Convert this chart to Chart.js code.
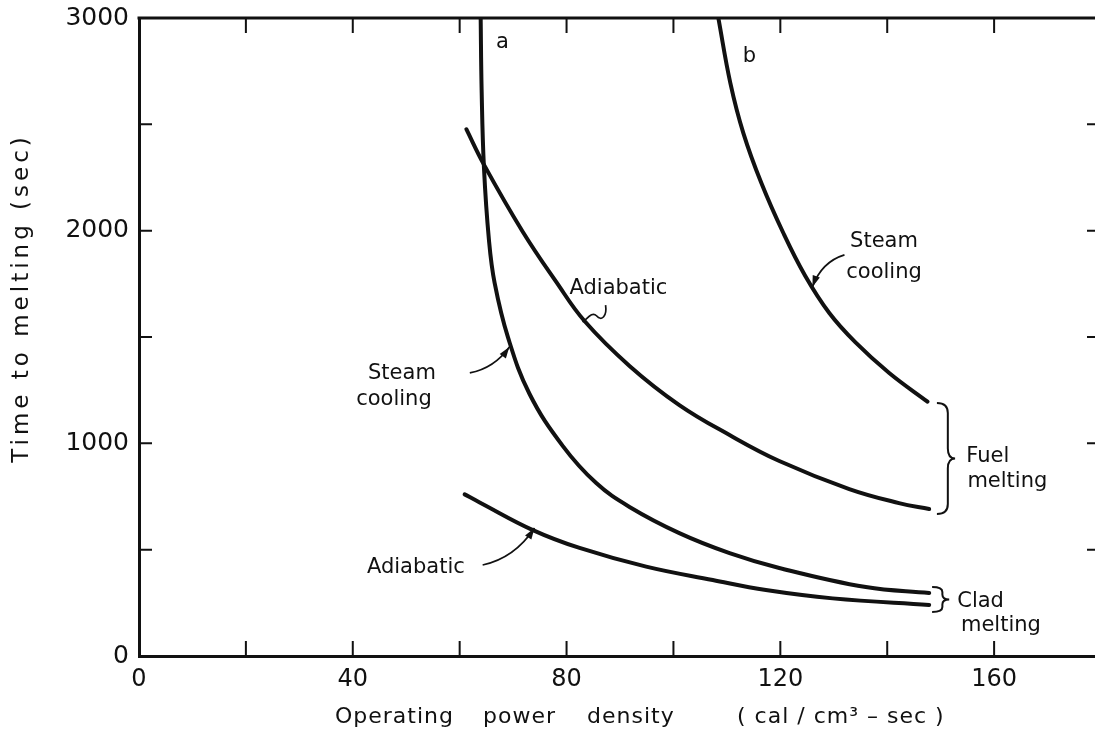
<!DOCTYPE html>
<html lang="en">
<head>
<meta charset="UTF-8">
<title>Time to melting vs operating power density</title>
<script src="https://cdn.jsdelivr.net/npm/chart.js"></script>
<style>
  html, body { margin: 0; padding: 0; background: #fff; overflow: hidden; }
  #wrap { width: 1095px; height: 738px; overflow: hidden; }
  canvas { display: block; }
</style>
</head>
<body>
<div id="wrap"><canvas id="meltChart" width="1110" height="738"></canvas></div>
<script>
// curve a, steam cooling (fuel melting)
const steamA_power = [63.93, 64.11, 64.54, 65.48, 66.54, 69.03, 73.08, 79.31, 85.55, 91.78, 101.1, 110.5, 119.8, 136.0, 147.85];
const steamA_time  = [3000, 2661, 2299, 1956, 1754, 1499, 1232, 987, 813, 701, 578, 484, 414, 324, 296];

// curve a, adiabatic (fuel melting)
const adiabA_power = [61.25, 64.49, 71.83, 78.07, 83.36, 91.78, 101.1, 110.5, 119.8, 132.9, 142.2, 147.85];
const adiabA_time  = [2477, 2313, 1994, 1759, 1575, 1364, 1180, 1039, 917, 785, 719, 691];

// curve b, steam cooling
const steamB_power = [108.4, 110.65, 113.08, 116.45, 120.56, 124.67, 129.16, 134.02, 140.37, 147.53];
const steamB_time  = [3000, 2694, 2459, 2224, 1989, 1787, 1613, 1476, 1331, 1196];

// adiabatic, clad melting
const adiabClad_power = [60.93, 63.74, 73.7, 82.43, 94.9, 107.35, 117.3, 129.8, 147.85];
const adiabClad_time  = [760, 722, 592, 508, 420, 357, 310, 271, 240];

const xTickLabels = [0, 40, 80, 120, 160];
const yTickLabels = [0, 1000, 2000, 3000];

const FONT = '"DejaVu Sans", sans-serif';
const INK = '#111';

const pts = (xs, ys) => xs.map((v, i) => ({ x: v, y: ys[i] }));
const curve = (label, xs, ys) => ({
  label,
  data: pts(xs, ys),
  showLine: true,
  borderColor: INK,
  borderWidth: 4,
  pointRadius: 0,
  tension: 0.4,
  borderCapStyle: 'round',
  fill: false
});

// free text, in data units (power, time)
const notes = [
  { text: 'a', v: 68.0, t: 2885, size: 21 },
  { text: 'b', v: 114.2, t: 2817, size: 21 },
  { text: 'Steam', v: 139.4, t: 1947, size: 21 },
  { text: 'cooling', v: 139.4, t: 1801, size: 21 },
  { text: 'Adiabatic', v: 89.7, t: 1730, size: 21 },
  { text: 'Steam', v: 49.2, t: 1326, size: 21 },
  { text: 'cooling', v: 47.7, t: 1204, size: 21 },
  { text: 'Adiabatic', v: 51.8, t: 418, size: 21 },
  { text: 'Fuel', v: 154.8, t: 936, size: 21, align: 'left' },
  { text: 'melting', v: 155.0, t: 818, size: 21, align: 'left' },
  { text: 'Clad', v: 153.1, t: 254, size: 21, align: 'left' },
  { text: 'melting', v: 153.8, t: 141, size: 21, align: 'left' }
];

// leader arrows: start, control, end (end gets the head)
const arrows = [
  [[132.0, 1886], [127.7, 1853], [126.0, 1735]],
  [[61.9, 1331], [66.5, 1354], [69.3, 1453]],
  [[64.3, 428], [70.3, 461], [74.0, 602]]
];

const braces = [
  { v: 149.3, top: 1190, bottom: 668, w: 3.4 },
  { v: 148.4, top: 324, bottom: 207, w: 3.2 }
];

const decor = {
  id: 'decor',
  afterDraw(chart) {
    const { ctx, chartArea: a, scales: { x, y } } = chart;
    const X = v => x.getPixelForValue(v);
    const Y = v => y.getPixelForValue(v);
    ctx.save();
    ctx.strokeStyle = INK;
    ctx.fillStyle = INK;

    // top frame
    ctx.lineWidth = 3;
    ctx.beginPath();
    ctx.moveTo(a.left - 1.5, a.top);
    ctx.lineTo(a.right, a.top);
    ctx.stroke();

    // inward tick marks on all four sides
    ctx.lineWidth = 2;
    x.ticks.forEach(tk => {
      if (tk.value <= x.min) return;
      const px = X(tk.value);
      ctx.beginPath();
      ctx.moveTo(px, a.bottom); ctx.lineTo(px, a.bottom - 15);
      ctx.moveTo(px, a.top); ctx.lineTo(px, a.top + 15);
      ctx.stroke();
    });
    y.ticks.forEach(tk => {
      if (tk.value <= y.min || tk.value >= y.max) return;
      const py = Y(tk.value);
      ctx.beginPath();
      ctx.moveTo(a.left, py); ctx.lineTo(a.left + 13, py);
      ctx.moveTo(a.right, py); ctx.lineTo(a.right - 14, py);
      ctx.stroke();
    });

    // curve labels
    ctx.textBaseline = 'middle';
    notes.forEach(n => {
      ctx.font = n.size + 'px ' + FONT;
      ctx.textAlign = n.align || 'center';
      ctx.fillText(n.text, X(n.v), Y(n.t));
    });

    // arrows
    ctx.lineWidth = 1.7;
    arrows.forEach(([s, c, e]) => {
      const sx = X(s[0]), sy = Y(s[1]), cx = X(c[0]), cy = Y(c[1]), ex = X(e[0]), ey = Y(e[1]);
      ctx.beginPath();
      ctx.moveTo(sx, sy);
      ctx.quadraticCurveTo(cx, cy, ex, ey);
      ctx.stroke();
      const ang = Math.atan2(ey - cy, ex - cx);
      ctx.beginPath();
      ctx.moveTo(ex, ey);
      ctx.lineTo(ex - 12 * Math.cos(ang - 0.32), ey - 12 * Math.sin(ang - 0.32));
      ctx.lineTo(ex - 12 * Math.cos(ang + 0.32), ey - 12 * Math.sin(ang + 0.32));
      ctx.closePath();
      ctx.fill();
    });

    // squiggle under the upper "Adiabatic"
    ctx.beginPath();
    ctx.moveTo(X(87.3), Y(1650));
    ctx.bezierCurveTo(X(87.6), Y(1600), X(86.6), Y(1570), X(85.6), Y(1600));
    ctx.bezierCurveTo(X(84.8), Y(1620), X(84.0), Y(1590), X(83.0), Y(1570));
    ctx.stroke();

    // curly braces
    ctx.lineWidth = 2;
    braces.forEach(b => {
      const x0 = X(b.v), w = X(b.v + b.w) - x0;
      const yt = Y(b.top), yb = Y(b.bottom), ym = (yt + yb) / 2;
      const xm = x0 + w * 0.6, r = Math.min(10, (yb - yt) / 5);
      ctx.beginPath();
      ctx.moveTo(x0, yt);
      ctx.quadraticCurveTo(xm, yt, xm, yt + r);
      ctx.lineTo(xm, ym - r);
      ctx.quadraticCurveTo(xm, ym, x0 + w, ym);
      ctx.quadraticCurveTo(xm, ym, xm, ym + r);
      ctx.lineTo(xm, yb - r);
      ctx.quadraticCurveTo(xm, yb, x0, yb);
      ctx.stroke();
    });

    // axis titles
    ctx.font = '22px ' + FONT;
    ctx.textAlign = 'left';
    ctx.letterSpacing = '1px';
    const ty = 717;
    ctx.fillText('Operating', 335, ty);
    ctx.fillText('power', 483, ty);
    ctx.fillText('density', 587, ty);
    ctx.fillText('( cal / cm³ – sec )', 737, ty);

    ctx.save();
    ctx.translate(22, 298);
    ctx.rotate(-Math.PI / 2);
    ctx.textAlign = 'center';
    ctx.letterSpacing = '4px';
    ctx.font = '23px ' + FONT;
    ctx.fillText('Time to melting (sec)', 0, 0);
    ctx.restore();

    ctx.restore();
  }
};

new Chart(document.getElementById('meltChart'), {
  type: 'scatter',
  data: {
    datasets: [
      curve('Steam cooling (a)', steamA_power, steamA_time),
      curve('Adiabatic (fuel)', adiabA_power, adiabA_time),
      curve('Steam cooling (b)', steamB_power, steamB_time),
      curve('Adiabatic (clad)', adiabClad_power, adiabClad_time)
    ]
  },
  options: {
    responsive: false,
    animation: false,
    devicePixelRatio: 1,
    layout: { padding: { top: 18, right: 8, left: 0, bottom: 0 } },
    plugins: { legend: { display: false }, tooltip: { enabled: false } },
    scales: {
      x: {
        type: 'linear',
        min: 0, max: 180,
        grid: { display: false, drawTicks: false },
        border: { display: true, width: 3, color: INK },
        ticks: {
          stepSize: 20,
          padding: 9,
          color: INK,
          font: { family: FONT, size: 24 },
          maxRotation: 0,
          autoSkip: false,
          callback: v => xTickLabels.includes(v) ? String(v) : ''
        },
        afterFit: s => { s.height = 82; }
      },
      y: {
        type: 'linear',
        min: 0, max: 3000,
        grid: { display: false, drawTicks: false },
        border: { display: true, width: 3, color: INK },
        ticks: {
          stepSize: 500,
          padding: 10,
          color: INK,
          font: { family: FONT, size: 25 },
          autoSkip: false,
          callback: v => yTickLabels.includes(v) ? String(v) : ''
        },
        afterFit: s => { s.width = 139; s.paddingTop = 0; s.paddingBottom = 0; }
      }
    }
  },
  plugins: [decor]
});
</script>
</body>
</html>
